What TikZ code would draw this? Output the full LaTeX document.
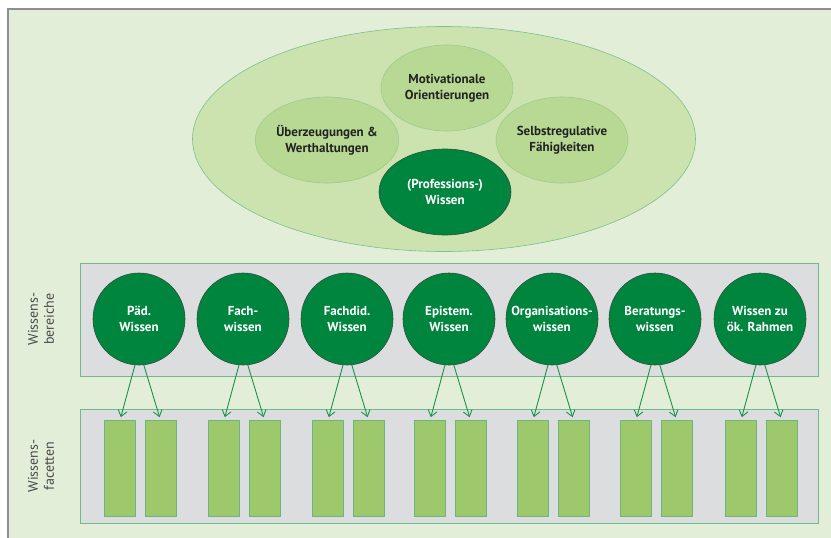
\documentclass[tikz,border=0pt]{standalone}
\usepackage{fontspec}
\setmainfont{PT Sans}
\usetikzlibrary{shapes.geometric,arrows.meta}
\definecolor{panelbg}{HTML}{E2EED8}
\definecolor{panelline}{HTML}{8E8E8E}
\definecolor{bigell}{HTML}{CCE3B0}
\definecolor{bigellline}{HTML}{7CBF8C}
\definecolor{smallell}{HTML}{B7D993}
\definecolor{smallellline}{HTML}{9CCB8E}
\definecolor{darkgreen}{HTML}{00853F}
\definecolor{darkline}{HTML}{2F4F3A}
\definecolor{graybox}{HTML}{DCDDDF}
\definecolor{boxline}{HTML}{6DBB8A}
\definecolor{facet}{HTML}{9DC96C}
\definecolor{facetline}{HTML}{6DB57E}
\definecolor{arrowgreen}{HTML}{17944A}
\definecolor{txtdark}{HTML}{222222}
\definecolor{txtgray}{HTML}{4A4A4A}
\tikzset{
  x=1pt,y=-1pt,
  softell/.style={ellipse,fill=smallell,draw=smallellline,line width=0.6pt,
    minimum width=132pt,minimum height=86pt,inner sep=0pt,align=center,
    text=txtdark,font=\fontsize{13}{16}\selectfont\bfseries},
  darkell/.style={softell,fill=darkgreen,draw=darkline,text=white},
  areacirc/.style={circle,fill=darkgreen,draw=darkline,line width=0.6pt,
    minimum size=92pt,inner sep=0pt,align=center,text=white,
    font=\fontsize{13}{16}\selectfont\bfseries},
  facetbox/.style={rectangle,fill=facet,draw=facetline,line width=0.8pt,
    minimum width=31pt,minimum height=96pt,inner sep=0pt},
  grayrow/.style={fill=graybox,draw=boxline,line width=1pt},
  sidelabel/.style={rotate=90,align=center,text=txtgray,
    font=\fontsize{14}{16}\selectfont},
  facetarrow/.style={draw=arrowgreen,line width=0.9pt,
    -{Straight Barb[length=6pt,width=9pt]},shorten >=3pt}
}
\begin{document}
\begin{tikzpicture}
\useasboundingbox (0,0) rectangle (831,538);
\fill[white] (0,0) rectangle (831,538);
% panel
\fill[panelbg] (8,9) rectangle (831,538);
\draw[panelline,line width=1.5pt] (8,538) -- (8,9) -- (831,9);
% big ellipse
\node[ellipse,fill=bigell,draw=bigellline,line width=0.6pt,
  minimum width=503pt,minimum height=225pt,inner sep=0pt] (big) at (444,139) {};
\node[softell] (mot) at (447,88) {Motivationale\\Orientierungen};
\node[softell] (ueb) at (327,140) {Überzeugungen \&\\Werthaltungen};
\node[softell] (sel) at (562,140) {Selbstregulative\\Fähigkeiten};
\node[darkell] (prof) at (445,192) {(Professions-)\\Wissen};
% gray rows
\draw[grayrow] (80,263) rectangle (818,376);
\draw[grayrow] (80,409) rectangle (818,523);
\node[sidelabel] (lb1) at (41,319) {Wissens-\\bereiche};
\node[sidelabel] (lb2) at (41,466) {Wissens-\\facetten};
% circles, facets, arrows
\foreach \i/\cx/\txt in {1/139/{Päd.\\Wissen},2/243/{Fach-\\wissen},3/347/{Fachdid.\\Wissen},
  4/449/{Epistem.\\Wissen},5/552/{Organisations-\\wissen},6/655/{Beratungs-\\wissen},
  7/760/{Wissen zu\\ök. Rahmen}}{
  \node[areacirc] (c\i) at (\cx,319) {\txt};
  \node[facetbox] (fa\i) at (\cx-19,468.5) {};
  \node[facetbox] (fb\i) at (\cx+21.5,468.5) {};
  \draw[facetarrow] (c\i.-95) -- (fa\i.north);
  \draw[facetarrow] (c\i.-84) -- (fb\i.north);
}
\end{tikzpicture}
\end{document}
